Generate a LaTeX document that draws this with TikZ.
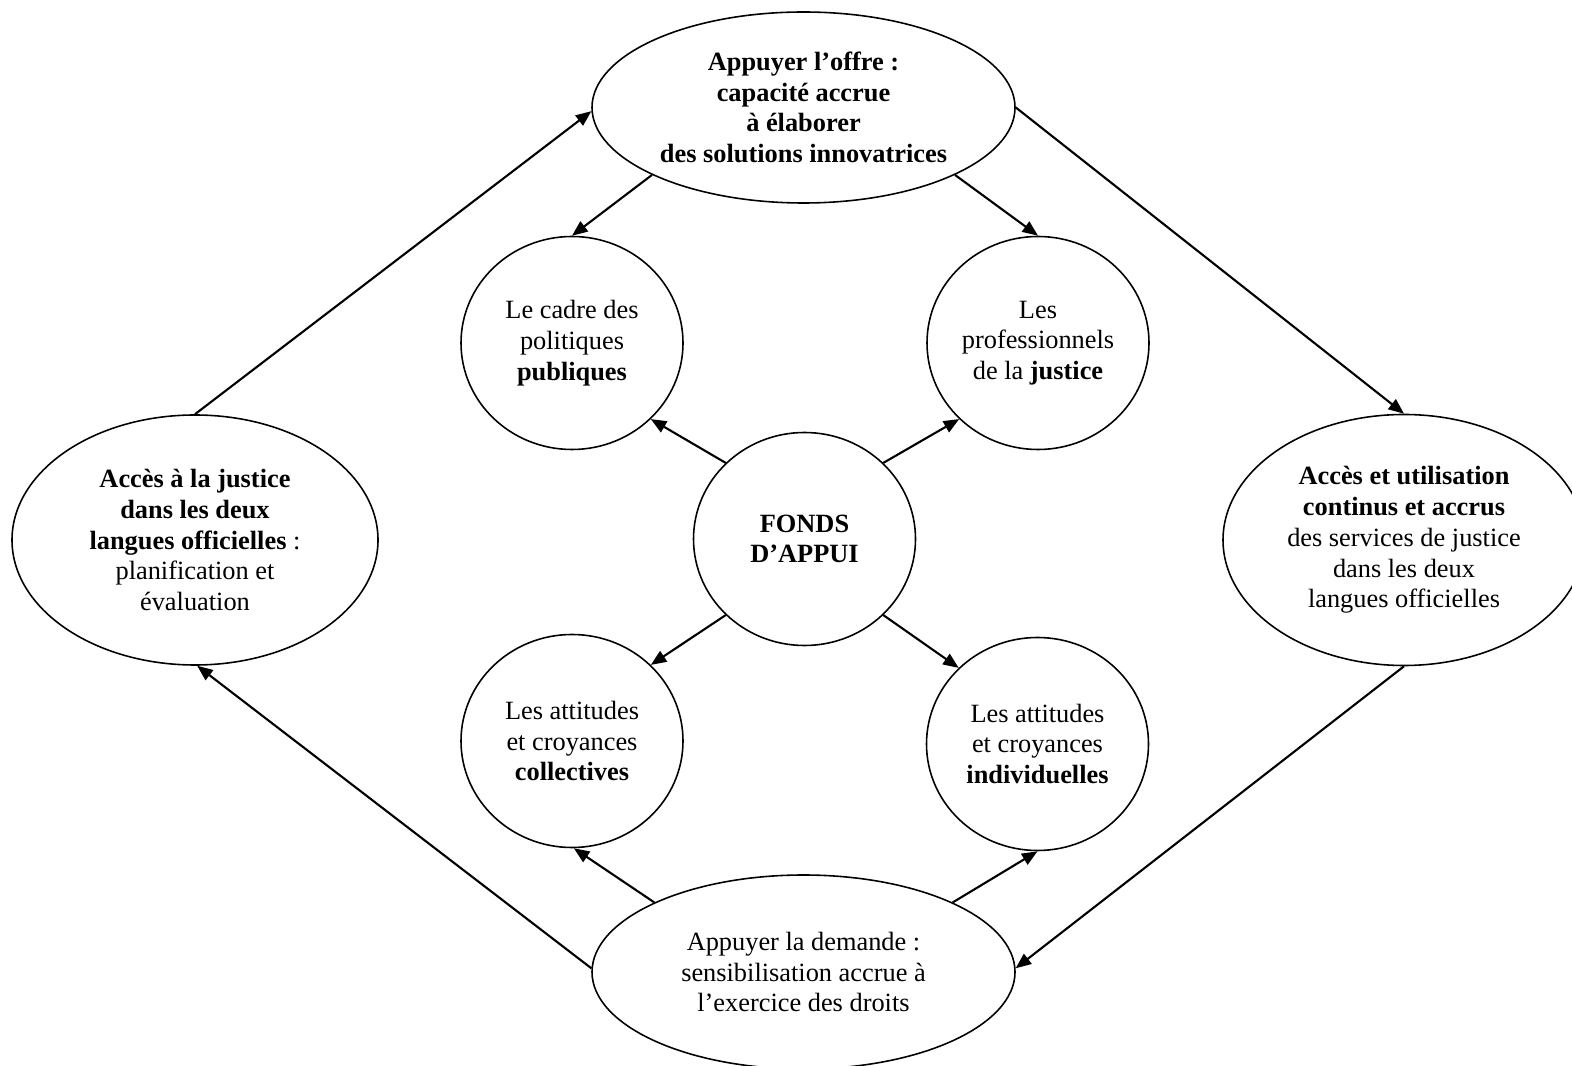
\documentclass[tikz,border=0pt]{standalone}
\usepackage{fontspec}
\setmainfont{Liberation Serif}
\usepackage{tikz}
\usetikzlibrary{arrows.meta,shapes.geometric}
\tikzset{
  oval/.style={ellipse, draw, line width=0.9pt, align=center, inner sep=0pt,
               font=\fontsize{15}{17.5}\selectfont},
  rond/.style={ellipse, draw, line width=0.9pt, align=center, inner sep=0pt,
               minimum width=4.44cm, minimum height=4.26cm,
               font=\fontsize{15}{17.5}\selectfont},
  fl/.style={-{Triangle[length=3.1mm,width=2.5mm]}, line width=1.2pt},
}

\begin{document}
\begin{tikzpicture}
\useasboundingbox (0,0) rectangle (31.44,21.3);
\node[oval, minimum width=8.46cm, minimum height=3.82cm] (offre) at (16.07,19.15)
  {\textbf{Appuyer l’offre :}\\\textbf{capacité accrue}\\\textbf{à élaborer}\\\textbf{des solutions innovatrices}};
\node[oval, minimum width=8.46cm, minimum height=3.88cm] (demande) at (16.07,1.86)
  {Appuyer la demande :\\sensibilisation accrue à\\l’exercice des droits};
\node[oval, minimum width=7.32cm, minimum height=5.0cm] (acces) at (3.9,10.5)
  {\textbf{Accès à la justice}\\\textbf{dans les deux}\\\textbf{langues officielles} :\\planification et\\évaluation};
\node[oval, minimum width=7.24cm, minimum height=5.02cm] (usage) at (28.08,10.5)
  {\textbf{Accès et utilisation}\\\textbf{continus et accrus}\\des services de justice\\dans les deux\\langues officielles};
\node[rond] (fonds) at (16.09,10.52) {\textbf{FONDS}\\\textbf{D’APPUI}};
\node[rond] (cadre) at (11.44,14.44) {Le cadre des\\politiques\\\textbf{publiques}};
\node[rond] (pros) at (20.76,14.44) {Les\\professionnels\\de la \textbf{justice}};
\node[rond] (coll) at (11.44,6.48) {Les attitudes\\et croyances\\\textbf{collectives}};
\node[rond] (indiv) at (20.75,6.42) {Les attitudes\\et croyances\\\textbf{individuelles}};
% outer cycle
\draw[fl] (acces.90) -- (offre.181);
\draw[fl] (offre.0) -- (usage.90);
\draw[fl] (usage.270) -- (demande.1);
\draw[fl] (demande.179) -- (acces.271);
% from the two ellipses
\draw[fl] (offre.204) -- (cadre.90);
\draw[fl] (offre.336) -- (pros.90);
\draw[fl] (demande.155) -- (coll.271);
\draw[fl] (demande.25) -- (indiv.270);
% from the centre
\draw[fl] (fonds.136) -- (cadre.316);
\draw[fl] (fonds.44) -- (pros.224);
\draw[fl] (fonds.224) -- (coll.44);
\draw[fl] (fonds.316) -- (indiv.136);
\end{tikzpicture}
\end{document}
